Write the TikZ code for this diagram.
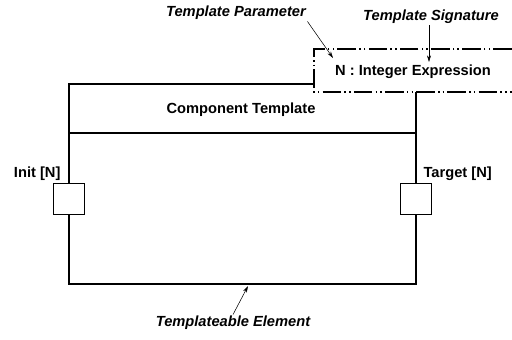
\documentclass[tikz,border=0pt]{standalone}
\usepackage{fontspec}
\setmainfont{Liberation Sans}
\usetikzlibrary{arrows.meta,positioning}

\begin{document}
\begin{tikzpicture}[
  x=0.75pt, y=-0.75pt,
  lbl/.style={font=\fontsize{11}{13}\selectfont\bfseries, inner sep=1pt},
  note/.style={font=\fontsize{11}{13}\selectfont\bfseries\itshape, inner sep=1pt},
  edge/.style={line width=1.2pt},
  port/.style={draw, line width=1.2pt, fill=white, minimum size=23pt, inner sep=0pt},
  sig/.style={line width=1.1pt, dash pattern=on 14pt off 2.4pt on 1.1pt off 2.4pt on 1.1pt off 2.4pt},
  arrow/.style={-{Stealth[length=5pt,width=3pt]}, thin}
]
\useasboundingbox (0,0) rectangle (512,340);
% component body
\draw[edge] (314,84) -- (69,84) -- (69,284) -- (416,284) -- (416,92);
\draw[edge] (69,133) -- (416,133);
\node[lbl] (name) at (241,110) {Component Template};
% template signature
\draw[sig] (512,49) -- (314,49) -- (314,92) -- (512,92);
\node[lbl] (expr) at (413,72) {N : Integer Expression};
% ports
\node[port] (init) at (69,199) {};
\node[port] (target) at (416,199) {};
\node[lbl, anchor=south east] (initlbl) at (62,182) {Init [N]};
\node[lbl, anchor=south west] (targetlbl) at (422,182) {Target [N]};
% notes
\node[note] (param) at (236,13) {Template Parameter};
\node[note] (signote) at (431,17) {Template Signature};
\node[note] (elem) at (233,323) {Templateable Element};
\coordinate (paramtip) at (333,58);
\coordinate (sigtip) at (429,62);
\coordinate (elemtip) at (248,286);
\draw[arrow] (param.south east) -- (paramtip);
\draw[arrow] (signote.south -| sigtip) -- (sigtip);
\draw[arrow] (elem.north) -- (elemtip);
\end{tikzpicture}
\end{document}
